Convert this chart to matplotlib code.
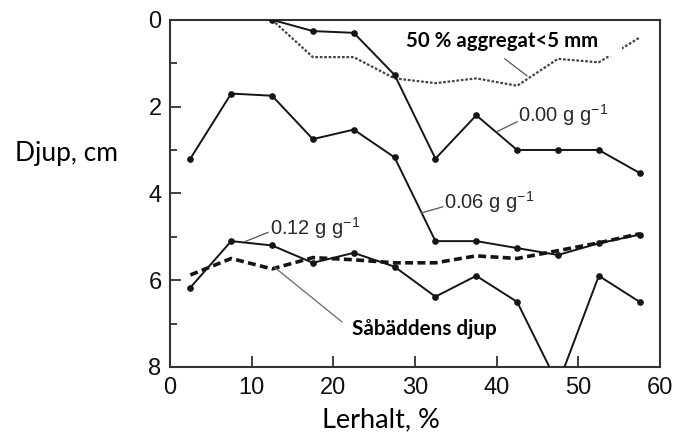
import matplotlib
matplotlib.use("Agg")
import matplotlib.pyplot as plt
from matplotlib.patches import Rectangle

plt.rcParams['mathtext.fontset'] = 'custom'
plt.rcParams['mathtext.rm'] = 'Liberation Sans'
plt.rcParams['mathtext.it'] = 'Liberation Sans'

# Data
x_full = [2.5, 7.5, 12.5, 17.5, 22.5, 27.5, 32.5, 37.5, 42.5, 47.5, 52.5, 57.5]
x_part = [12.5, 17.5, 22.5, 27.5, 32.5, 37.5, 42.5, 47.5, 52.5, 57.5]

depth_000 = [0.0, 0.26, 0.30, 1.27, 3.2, 2.2, 3.0, 3.0, 3.0, 3.53]
depth_006 = [3.2, 1.7, 1.75, 2.75, 2.53, 3.17, 5.1, 5.1, 5.26, 5.42, 5.15, 4.95]
depth_012 = [6.17, 5.1, 5.2, 5.6, 5.37, 5.69, 6.38, 5.9, 6.5, 8.4, 5.9, 6.5]
seedbed = [5.88, 5.5, 5.74, 5.48, 5.53, 5.6, 5.6, 5.44, 5.5, 5.32, 5.14, 4.93]
agg50 = [0.0, 0.86, 0.86, 1.35, 1.46, 1.35, 1.52, 0.90, 0.98, 0.41]

x_ticks = [0, 10, 20, 30, 40, 50, 60]
y_ticks = [0, 2, 4, 6, 8]

fig = plt.figure(figsize=(6.77, 4.4), dpi=100)
ax = fig.add_axes([0.251, 0.166, 0.724, 0.789])

lc = '#151515'
ax.plot(x_part, agg50, linestyle=(0, (1.2, 0.8)), color='#444444', lw=1.6, zorder=2)
ax.plot(x_full, seedbed, linestyle=(0, (2.2, 1.2)), color=lc, lw=2.6, zorder=3)
for ys, xs in [(depth_000, x_part), (depth_006, x_full), (depth_012, x_full)]:
    ax.plot(xs, ys, '-', color=lc, lw=1.4, marker='o', ms=3.8, zorder=4)

ax.set_xlim(0, 60)
ax.set_ylim(8, 0)

# white box behind the aggregate label
ax.add_patch(Rectangle((28.8, 0.1), 26.5, 0.73, facecolor='white', edgecolor='none', zorder=5))
ax.text(40.6, 0.48, '50 % aggregat<5 mm', family='Lato', weight='bold', fontsize=14.7,
        ha='center', va='center', color='black', zorder=6)
ax.plot([41.0, 43.7], [0.9, 1.29], color='#555555', lw=0.9, zorder=6)

lab_kw = dict(family='Liberation Sans', fontsize=14.5, color='#2a2a2a', va='center', ha='left', zorder=6)
ax.text(42.6, 2.2, r'0.00 g g$^{-1}$', **lab_kw)
ax.plot([40.0, 42.5], [2.58, 2.35], color='#555555', lw=0.9, zorder=6)
ax.text(33.6, 4.2, r'0.06 g g$^{-1}$', **lab_kw)
ax.plot([30.8, 33.4], [4.45, 4.31], color='#555555', lw=0.9, zorder=6)
ax.text(12.2, 4.8, r'0.12 g g$^{-1}$', **lab_kw)
ax.plot([9.2, 12.0], [5.11, 4.9], color='#555555', lw=0.9, zorder=6)

ax.text(22.3, 7.13, 'Såbäddens djup', family='Lato', weight='bold', fontsize=14.9,
        ha='left', va='center', color='black', zorder=6)
ax.plot([12.85, 21.05], [5.71, 6.96], color='#666666', lw=0.9, zorder=6)

ax.set_xticks(x_ticks)
ax.set_yticks(y_ticks)
ax.set_yticks([1, 3, 5, 7], minor=True)
ax.tick_params(axis='both', which='major', direction='in', length=8, width=1.3,
               labelsize=17, colors='#333333', labelcolor='#111111')
ax.tick_params(axis='y', which='minor', direction='in', length=5, width=1.3, colors='#333333')
ax.tick_params(axis='x', pad=7)
ax.tick_params(axis='y', pad=6)
for lbl in ax.get_xticklabels() + ax.get_yticklabels():
    lbl.set_family('Liberation Sans')
for sp in ax.spines.values():
    sp.set_linewidth(1.5)
    sp.set_color('#333333')

fig.text(15 / 677, 1 - 153 / 440, 'Djup, cm', family='Lato', fontsize=19,
         ha='left', va='center', color='black')
fig.text(381 / 677, 1 - 420 / 440, 'Lerhalt, %', family='Lato', fontsize=19.5,
         ha='center', va='center', color='black')

fig.savefig('out.png', dpi=100)
